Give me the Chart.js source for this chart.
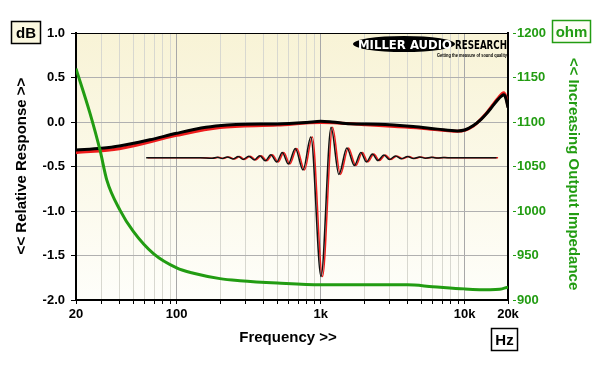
<!DOCTYPE html>
<html><head><meta charset="utf-8">
<script src="https://cdn.jsdelivr.net/npm/chart.js@4.4.1/dist/chart.umd.min.js"></script>
<style>html,body{margin:0;padding:0;background:#fff}#wrap{width:600px;height:368px;position:relative}</style>
</head><body><div id="wrap"><canvas id="c" width="600" height="368"></canvas></div>
<script>
// ---- data ----
const tickValues = [20,30,40,50,60,70,80,90,100,200,300,400,500,600,700,800,900,1000,2000,3000,4000,5000,6000,7000,8000,9000,10000,20000];
const tickLabels = {20:'20',100:'100',1000:'1k',10000:'10k',20000:'20k'};
const majorTicks = [100,1000,10000];

const respFreq  = [20,30,40,65,100,160,225,300,500,800,1000,1200,1600,2500,4400,6500,8900,10000,11500,13000,14100,15500,17000,18000,18700,19300,20000];
const respBlack = [-0.315,-0.295,-0.27,-0.2,-0.127,-0.06,-0.034,-0.025,-0.022,-0.005,0.008,0.0,-0.02,-0.025,-0.05,-0.08,-0.1,-0.09,-0.04,0.03,0.09,0.17,0.25,0.29,0.305,0.27,0.16];

const redFreq = [20,40,100,200,500,1000,2000,5000,9000,11500,14100,17000,18700,19300,20000];
const respRed = [-0.345,-0.3,-0.15,-0.062,-0.035,-0.005,-0.03,-0.07,-0.105,-0.045,0.095,0.265,0.33,0.29,0.175];

const waveFreq = [61.4,145.7,176.6,191.2,207.2,224.4,245.2,267.7,290.0,316.7,345.9,377.8,412.5,450.5,495.8,541.4,596.2,666.8,754.4,854.6,1006,1181,1338,1521,1715,1903,2078,2288,2498,2750,3004,3306,3640,4008,4412,4856,5346,5884,6478,7132,7978,10990,16660];
const waveDb = [-0.401,-0.401,-0.407,-0.396,-0.410,-0.392,-0.415,-0.389,-0.420,-0.384,-0.427,-0.378,-0.436,-0.369,-0.449,-0.343,-0.472,-0.298,-0.539,-0.169,-1.736,-0.060,-0.590,-0.292,-0.489,-0.343,-0.449,-0.360,-0.433,-0.371,-0.421,-0.382,-0.413,-0.389,-0.410,-0.393,-0.407,-0.397,-0.404,-0.399,-0.403,-0.401,-0.401];

const impFreq = [20,25,29.4,32.7,40.4,50,69,100,131,200,275,500,1000,2000,4000,6000,10000,15000,17500,20000];
const impOhm  = [1160,1110,1068,1035,1001,977,952,936,930,924,921.7,919,917,917,917,915,912.5,911.5,912,914.5];

const GREEN = '#229c12';
const FONT = '"Liberation Sans", Arial, sans-serif';

const pts = (xs, ys) => xs.map((x, i) => ({x, y: ys[i]}));

Chart.defaults.font.family = FONT;

const bgPlugin = {
  id: 'bg',
  beforeDraw(chart) {
    const {ctx, chartArea: a} = chart;
    ctx.save();
    ctx.fillStyle = '#fff';
    ctx.fillRect(0, 0, chart.width, chart.height);
    const g = ctx.createLinearGradient(0, a.top, 0, a.bottom);
    g.addColorStop(0, '#f8f3d6');
    g.addColorStop(1, '#fefefa');
    ctx.fillStyle = g;
    ctx.fillRect(a.left, a.top, a.right - a.left, a.bottom - a.top);
    ctx.restore();
  },
  beforeDatasetDraw(chart, args) {
    if (args.meta._dataset && args.meta._dataset.shift) {
      chart.ctx.save();
      chart.ctx.translate(args.meta._dataset.shift, 0);
    }
  },
  afterDatasetDraw(chart, args) {
    if (args.meta._dataset && args.meta._dataset.shift) chart.ctx.restore();
  },
  afterDraw(chart) {
    const {ctx, chartArea: a} = chart;
    ctx.save();
    // top border
    ctx.strokeStyle = '#000'; ctx.lineWidth = 1;
    ctx.beginPath(); ctx.moveTo(a.left, a.top + 0.5); ctx.lineTo(a.right, a.top + 0.5); ctx.stroke();

    // boxes
    function box(x, y, w, h, txt, col, fill) {
      ctx.fillStyle = fill; ctx.fillRect(x, y, w, h);
      ctx.strokeStyle = col; ctx.lineWidth = 1.5; ctx.strokeRect(x, y, w, h);
      ctx.fillStyle = col; ctx.font = 'bold 15px ' + FONT;
      ctx.textAlign = 'center'; ctx.textBaseline = 'middle';
      ctx.fillText(txt, x + w / 2, y + h / 2 + 1);
    }
    box(11.5, 21.5, 29, 22, 'dB', '#000', '#fbf8e0');
    box(552.5, 20.5, 38, 22, 'ohm', GREEN, '#fdfdf5');
    box(491.5, 328.5, 26, 22, 'Hz', '#000', '#fff');

    // axis titles
    ctx.font = 'bold 15px ' + FONT;
    ctx.fillStyle = '#000'; ctx.textAlign = 'center'; ctx.textBaseline = 'middle';
    ctx.fillText('Frequency >>', 288, 338);
    ctx.save(); ctx.translate(22, 166); ctx.rotate(-Math.PI / 2);
    ctx.fillText('<< Relative Response >>', 0, 0); ctx.restore();
    ctx.save(); ctx.translate(573, 174); ctx.rotate(Math.PI / 2);
    ctx.fillStyle = GREEN; ctx.fillText('<< Increasing Output Impedance', 0, 0); ctx.restore();

    // logo
    ctx.fillStyle = '#000';
    ctx.beginPath(); ctx.ellipse(404, 44, 51, 8, 0, 0, Math.PI * 2); ctx.fill();
    ctx.font = 'bold 12px "DejaVu Sans", sans-serif'; ctx.textAlign = 'left'; ctx.textBaseline = 'alphabetic';
    ctx.fillStyle = '#fff';
    ctx.save(); ctx.translate(358, 48.5);
    const w1 = ctx.measureText('MILLER AUDIO').width; ctx.scale(94 / w1, 1);
    ctx.fillText('MILLER AUDIO', 0, 0); ctx.restore();
    ctx.fillStyle = '#000';
    ctx.save(); ctx.translate(455, 48.5);
    const w2 = ctx.measureText('RESEARCH').width; ctx.scale(52 / w2, 1);
    ctx.fillText('RESEARCH', 0, 0); ctx.restore();
    ctx.font = 'bold 5px ' + FONT;
    ctx.save(); ctx.translate(437, 56.5);
    const w3 = ctx.measureText('Getting the measure of sound quality').width; ctx.scale(70 / w3, 1);
    ctx.fillText('Getting the measure of sound quality', 0, 0); ctx.restore();
    ctx.restore();
  }
};

new Chart(document.getElementById('c'), {
  type: 'line',
  data: {
    datasets: [
      {label: 'Impedance', yAxisID: 'y2', data: pts(impFreq, impOhm), borderColor: GREEN, borderWidth: 3, pointRadius: 0, cubicInterpolationMode: 'monotone'},
      {label: 'Wave L', yAxisID: 'y', data: pts(waveFreq, waveDb), borderColor: '#111', borderWidth: 1.5, pointRadius: 0, cubicInterpolationMode: 'monotone'},
      {label: 'Wave R', yAxisID: 'y', data: pts(waveFreq, waveDb), borderColor: '#ee1c1c', borderWidth: 1.5, pointRadius: 0, cubicInterpolationMode: 'monotone', shift: 1.5},
      {label: 'Resp L', yAxisID: 'y', data: pts(respFreq, respBlack), borderColor: '#000', borderWidth: 3, pointRadius: 0, cubicInterpolationMode: 'monotone'},
      {label: 'Resp R', yAxisID: 'y', data: pts(redFreq, respRed), borderColor: '#ee1c1c', borderWidth: 3, pointRadius: 0, cubicInterpolationMode: 'monotone'}
    ]
  },
  options: {
    responsive: false, animation: false, devicePixelRatio: 1,
    layout: {padding: {top: 33, left: 0, right: 0, bottom: 0}},
    plugins: {legend: {display: false}, tooltip: {enabled: false}},
    scales: {
      x: {
        type: 'logarithmic', min: 20, max: 20000,
        afterBuildTicks: s => { s.ticks = tickValues.map(v => ({value: v})); },
        afterFit: s => { s.height = 68; },
        ticks: {autoSkip: false, maxRotation: 0, minRotation: 0, padding: 3, color: '#000',
          font: {size: 13, weight: 'bold'}, callback: v => tickLabels[v] || ''},
        grid: {color: c => (c.tick && majorTicks.includes(c.tick.value)) ? '#a8a8a8' : '#d8d8d0',
          lineWidth: 1, tickColor: '#000', tickLength: 4},
        border: {color: '#000', width: 2}
      },
      y: {
        position: 'left', min: -2, max: 1,
        afterFit: s => { s.width = 76; },
        ticks: {stepSize: 0.5, padding: 1, color: '#000', font: {size: 13, weight: 'bold'}, callback: v => Number(v).toFixed(1)},
        grid: {color: '#b0b0b0', lineWidth: 1, tickColor: '#000', tickLength: 10, tickBorderDash: [5, 5], tickBorderDashOffset: 5},
        border: {color: '#000', width: 2}
      },
      y2: {
        position: 'right', min: 900, max: 1200,
        afterFit: s => { s.width = 92; },
        ticks: {stepSize: 50, padding: 1, color: GREEN, font: {size: 13, weight: 'bold'}, callback: v => String(v)},
        grid: {drawOnChartArea: false, tickColor: GREEN, tickLength: 8, tickBorderDash: [4, 4], tickBorderDashOffset: 4},
        border: {color: '#000', width: 2}
      }
    }
  },
  plugins: [bgPlugin]
});
</script>
</body></html>
